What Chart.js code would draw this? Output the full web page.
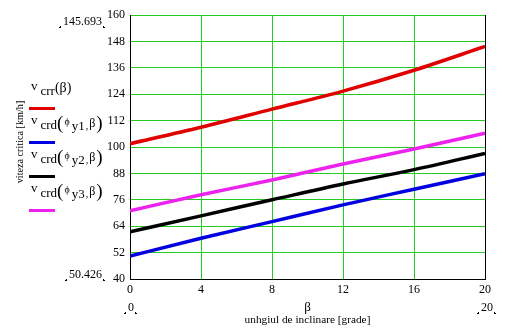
<!DOCTYPE html>
<html><head><meta charset="utf-8">
<script src="https://cdn.jsdelivr.net/npm/chart.js@4"></script>
<style>html,body{margin:0;padding:0;background:#fff;}#wrap{width:508px;height:332px;position:relative;}</style>
</head><body><div id="wrap"><canvas id="c" width="508" height="332"></canvas></div>
<script>
const beta = [0, 4, 8, 12, 16, 20];
const vCrr = [101.5, 109.0, 117.2, 125.4, 134.9, 145.693];
const vCrdY1 = [50.426, 58.5, 66.1, 73.7, 80.8, 87.9];
const vCrdY2 = [61.5, 68.7, 76.0, 83.2, 89.7, 97.1];
const vCrdY3 = [71.0, 78.3, 85.0, 92.3, 99.1, 106.3];
const yTicks = [40, 52, 64, 76, 88, 100, 112, 124, 136, 148, 160];
const xTicks = [0, 4, 8, 12, 16, 20];
const seriesColors = ['#e00000', '#0000e0', '#000000', '#ee22ee'];
const maxLabel = '145.693', minLabel = '50.426', xMinLabel = '0', xMaxLabel = '20';
const yTitle = 'viteza critica [km/h]';
const xVar = 'β';
const xTitle = 'unhgiul de inclinare [grade]';

const SERIF = '"Liberation Serif","Times New Roman",serif';
const seriesData = [vCrr, vCrdY1, vCrdY2, vCrdY3];
const datasets = seriesData.map((arr, i) => ({
  data: arr.map((v, k) => ({x: beta[k], y: v})),
  borderColor: seriesColors[i], borderWidth: 3.5, pointRadius: 0,
  cubicInterpolationMode: 'monotone', fill: false
}));

function drawSegs(ctx, x, y, segs) {
  for (const s of segs) {
    ctx.font = s[1] + 'px ' + SERIF;
    ctx.fillText(s[0], x, y + (s[2] || 0));
    x += ctx.measureText(s[0]).width + (s[3] || 0);
  }
}
// xr: right edge (align right) or centre (align center)
function marker(ctx, text, xPos, y, align) {
  ctx.font = '12px ' + SERIF;
  ctx.textBaseline = 'middle';
  const w = ctx.measureText(text).width;
  const left = align === 'center' ? xPos - w / 2 : xPos - w;
  ctx.textAlign = 'left';
  ctx.fillText(text, left, y);
  const right = left + w;
  ctx.fillRect(left - 3, y + 4, 1, 2);
  ctx.fillRect(left - 4, y + 5, 2, 1);
  ctx.fillRect(right + 1, y + 4, 1, 2);
  ctx.fillRect(right + 1, y + 5, 2, 1);
}

const deco = {
  id: 'deco',
  afterDraw(chart) {
    const ctx = chart.ctx, a = chart.chartArea;
    ctx.save();
    ctx.fillStyle = '#000';
    ctx.strokeStyle = '#000'; ctx.lineWidth = 1;
    ctx.beginPath(); ctx.moveTo(a.right + 0.5, a.top); ctx.lineTo(a.right + 0.5, a.bottom + 1); ctx.stroke();
    // legend
    ctx.textAlign = 'left'; ctx.textBaseline = 'alphabetic';
    const base = [90, 124, 158, 192];
    for (let i = 0; i < 4; i++) {
      const y = base[i];
      if (i === 0) {
        drawSegs(ctx, 31, y, [['v', 13, 0, 3], ['crr', 13, 5, 0], ['(β)', 14, 2, 0]]);
      } else {
        drawSegs(ctx, 31, y, [['v', 13, 0, 3], ['crd', 13, 5, 0], ['(', 19, 5, 1], ['ϕ', 10, 1, 2], ['y' + i, 13, 6, 1], [',', 10, 5, 1], ['β', 12, 3, 1], [')', 19, 5, 0]]);
      }
      ctx.fillStyle = seriesColors[i];
      ctx.fillRect(29, y + 17, 26, 3);
      ctx.fillStyle = '#000';
    }
    // y title
    ctx.save();
    ctx.translate(20, 142); ctx.rotate(-Math.PI / 2);
    ctx.font = '10.2px ' + SERIF; ctx.textAlign = 'center'; ctx.textBaseline = 'middle';
    ctx.fillText(yTitle, 0, 0);
    ctx.restore();
    // x title
    ctx.font = '13px ' + SERIF; ctx.textAlign = 'center'; ctx.textBaseline = 'middle';
    ctx.fillText(xVar, (a.left + a.right) / 2, 308);
    ctx.font = '11.3px ' + SERIF;
    ctx.fillText(xTitle, (a.left + a.right) / 2, 320);
    // markers
    marker(ctx, maxLabel, 102, 22, 'right');
    marker(ctx, minLabel, 102, 275, 'right');
    marker(ctx, xMinLabel, a.left + 1, 308, 'center');
    marker(ctx, xMaxLabel, a.right + 2, 308, 'center');
    ctx.restore();
  }
};

new Chart(document.getElementById('c'), {
  type: 'line',
  data: {datasets},
  options: {
    responsive: false, animation: false, devicePixelRatio: 1,
    layout: {padding: {left: 90, top: 15, right: 23, bottom: 0}},
    plugins: {legend: {display: false}, tooltip: {enabled: false}},
    scales: {
      x: {
        type: 'linear', min: 0, max: 20,
        afterBuildTicks: s => { s.ticks = xTicks.map(v => ({value: v})); },
        afterFit: s => { s.height = 53; },
        grid: {color: '#22cc22', lineWidth: 1, drawTicks: false},
        border: {color: '#000', width: 1},
        ticks: {color: '#000', padding: 4, maxRotation: 0, font: {family: SERIF, size: 12}}
      },
      y: {
        type: 'linear', min: 40, max: 160,
        afterBuildTicks: s => { s.ticks = yTicks.map(v => ({value: v})); },
        afterFit: s => { s.width = 40; },
        grid: {color: '#22cc22', lineWidth: 1, drawTicks: false},
        border: {color: '#000', width: 1},
        ticks: {color: '#000', padding: 5, font: {family: SERIF, size: 12}}
      }
    }
  },
  plugins: [deco]
});
</script></body></html>
